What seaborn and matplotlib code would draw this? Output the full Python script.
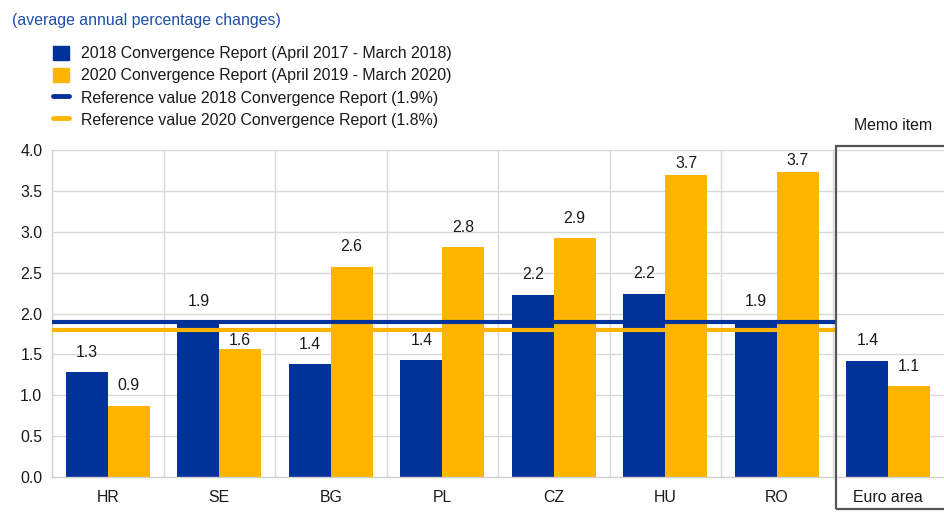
import matplotlib
matplotlib.use("Agg")
import matplotlib.pyplot as plt
import seaborn as sns
import pandas as pd
from matplotlib.patches import Patch, Rectangle
from matplotlib.lines import Line2D

categories = ["HR", "SE", "BG", "PL", "CZ", "HU", "RO", "Euro area"]
values_2018 = [1.28, 1.90, 1.38, 1.43, 2.23, 2.24, 1.90, 1.42]
values_2020 = [0.87, 1.56, 2.57, 2.81, 2.92, 3.69, 3.73, 1.11]
series_names = ["2018 Convergence Report (April 2017 - March 2018)",
                "2020 Convergence Report (April 2019 - March 2020)"]
ref_names = ["Reference value 2018 Convergence Report (1.9%)",
             "Reference value 2020 Convergence Report (1.8%)"]
ref_values = [1.9, 1.8]
yticks = [0.0, 0.5, 1.0, 1.5, 2.0, 2.5, 3.0, 3.5, 4.0]

BLUE = "#003299"
YELLOW = "#FFB400"
FS = 11.4

df = pd.DataFrame({
    "cat": categories * 2,
    "val": values_2018 + values_2020,
    "series": [series_names[0]] * len(categories) + [series_names[1]] * len(categories),
})

sns.set_theme(style="white")
plt.rcParams["font.family"] = ["Liberation Sans", "DejaVu Sans"]

W, H = 944, 517
fig = plt.figure(figsize=(W / 100, H / 100), dpi=100)
ax = fig.add_axes([52 / W, 40 / H, (944 - 52) / W, (477 - 150) / H])

sns.barplot(data=df, x="cat", y="val", hue="series", order=categories,
            hue_order=series_names, palette=[BLUE, YELLOW], width=0.75,
            saturation=1, ax=ax, legend=False, zorder=2, linewidth=0)

for ci, cont in enumerate(ax.containers):
    for bi, bar in enumerate(cont):
        v = bar.get_height()
        pad = 9
        # labels nudged to avoid the reference lines / the top of the frame
        if ci == 1 and categories[bi] == "SE":
            pad = 1
        elif v > 3.5:
            pad = 3
        ax.annotate(f"{v:.1f}", (bar.get_x() + bar.get_width() / 2, v),
                    xytext=(0, pad), textcoords="offset points",
                    ha="center", va="bottom", fontsize=FS, color="#1a1a1a",
                    zorder=4, annotation_clip=False)

ax.set_xlim(-0.5, 7.5)
ax.set_ylim(0, 4.0)
ax.set_yticks(yticks)
ax.set_yticklabels([f"{t:.1f}" for t in yticks])
ax.set_xlabel("")
ax.set_ylabel("")
ax.tick_params(axis="both", labelsize=FS, colors="#1a1a1a", length=0, pad=7)
ax.tick_params(axis="x", pad=9)

# gridlines
for t in yticks[1:]:
    ax.axhline(t, color="#d9d9d9", lw=1, zorder=0)
for i in range(len(categories) - 1):
    ax.axvline(i + 0.5, color="#d9d9d9", lw=1, zorder=0)

for s in ["top", "right"]:
    ax.spines[s].set_visible(False)
for s in ["left", "bottom"]:
    ax.spines[s].set_color("#d0d0d0")
    ax.spines[s].set_linewidth(1)

# reference lines up to the memo box
xend = (836 - 52) / 111.5 - 0.5
ax.hlines(ref_values[0], -0.5, xend, color=BLUE, lw=3, zorder=3)
ax.hlines(ref_values[1], -0.5, xend, color=YELLOW, lw=3, zorder=3)

# memo box
rect = Rectangle((836 / W, (517 - 509) / H), (960 - 836) / W, (509 - 146) / H,
                 transform=fig.transFigure, fill=False, edgecolor="#555555",
                 lw=1.6, clip_on=False, zorder=5)
fig.patches.append(rect)
fig.text(893 / W, 1 - 125 / H, "Memo item", ha="center", va="center",
         fontsize=FS, color="#1a1a1a")

# title
fig.text(12 / W, 1 - 20 / H, "(average annual percentage changes)", ha="left",
         va="center", fontsize=FS, color="#1f4ea8")

handles = [Patch(facecolor=BLUE, edgecolor=BLUE),
           Patch(facecolor=YELLOW, edgecolor=YELLOW),
           Line2D([0], [0], color=BLUE, lw=3.5),
           Line2D([0], [0], color=YELLOW, lw=3.5)]
fig.legend(handles, series_names + ref_names, loc="upper left",
           bbox_to_anchor=(48 / W, 1 - 41 / H), frameon=False, fontsize=FS,
           handlelength=1.05, handleheight=1.0, handletextpad=0.75,
           labelspacing=0.42, borderaxespad=0, borderpad=0.3,
           labelcolor="#1a1a1a")

fig.savefig("out.png", dpi=100)
